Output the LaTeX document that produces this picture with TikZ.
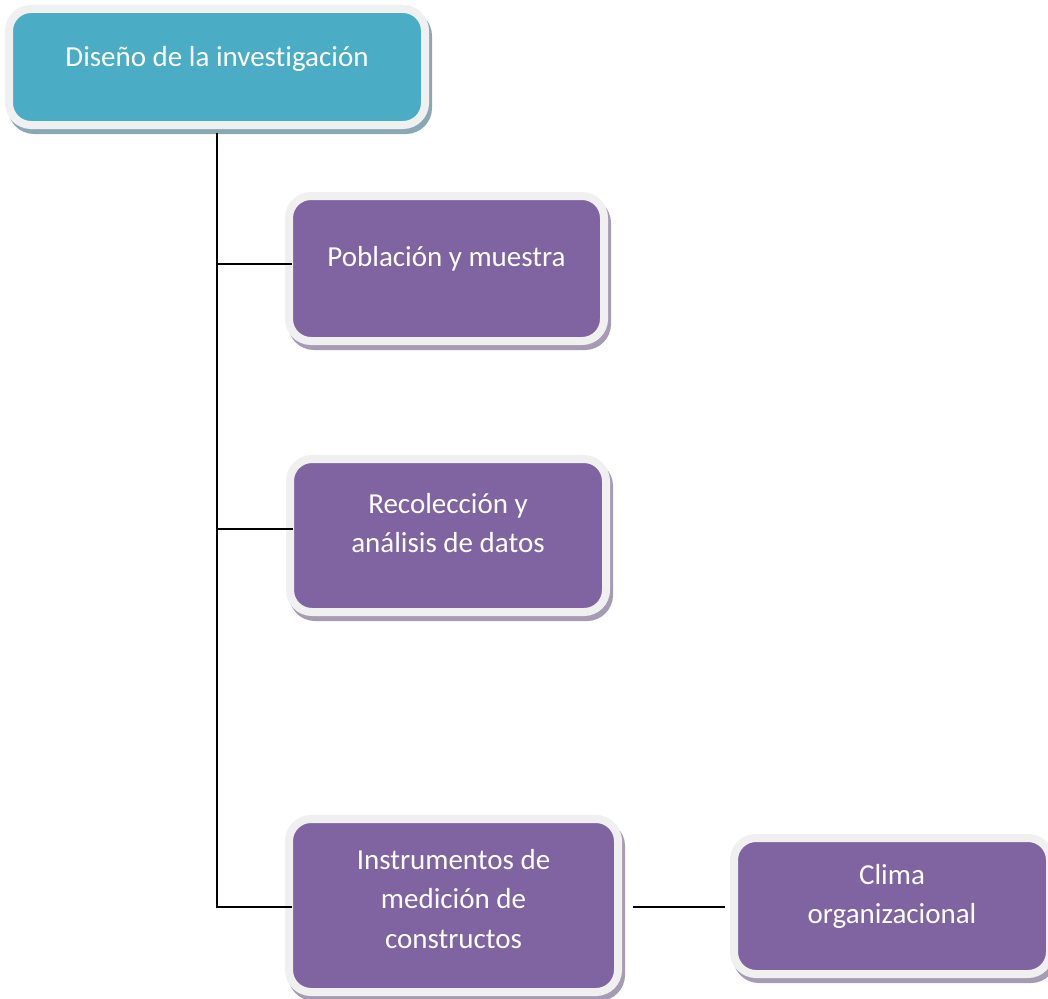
\documentclass[tikz,border=0pt]{standalone}
\usepackage{fontspec}
\setmainfont[Ligatures=NoCommon]{Carlito}
\usetikzlibrary{shadows}

\definecolor{tealfill}{RGB}{75,172,198}
\definecolor{purplefill}{RGB}{128,100,162}
\definecolor{boxrim}{RGB}{240,240,240}
\definecolor{tealshade}{RGB}{138,168,180}
\definecolor{purpleshade}{RGB}{165,155,178}

\tikzset{
    boxbase/.style={rectangle, rounded corners=22pt, draw=boxrim, line width=8pt, outer sep=0pt, inner sep=0pt},
    topbox/.style={boxbase, fill=tealfill, minimum width=416pt, minimum height=116pt,
        drop shadow={shadow xshift=3pt, shadow yshift=-5pt, fill=tealshade, draw=tealshade, opacity=1}},
    purplebox/.style={boxbase, fill=purplefill,
        drop shadow={shadow xshift=3pt, shadow yshift=-5pt, fill=purpleshade, draw=purpleshade, opacity=1}},
    boxtext/.style={text=white, align=center, inner sep=0pt, font=\fontsize{29pt}{39.5pt}\selectfont},
    conn/.style={draw=black, line width=2pt}
}

\begin{document}
\begin{tikzpicture}[x=1pt, y=-1pt]
    \useasboundingbox (0,0) rectangle (1048,998);

    % Draw nodes
    \node[topbox] (diseno) at (217,67) {};
    \node[purplebox, minimum width=315pt, minimum height=145pt] (poblacion) at (446.5,268.5) {};
    \node[purplebox, minimum width=316pt, minimum height=153pt] (recoleccion) at (448,535.5) {};
    \node[purplebox, minimum width=329pt, minimum height=173pt] (instrumentos) at (453.5,905.5) {};
    \node[purplebox, minimum width=316pt, minimum height=136pt] (clima) at (892,906) {};

    % Texts
    \node[boxtext] (disenotxt) at ([yshift=8.5pt]diseno.center) {Diseño de la investigación};
    \node[boxtext] (poblaciontxt) at ([yshift=10pt]poblacion.center) {Población y muestra};
    \node[boxtext] (recolecciontxt) at ([yshift=12.5pt]recoleccion.center) {Recolección y\\análisis de datos};
    \node[boxtext] (instrumentostxt) at ([yshift=6.5pt]instrumentos.center) {Instrumentos de\\medición de\\constructos};
    \node[boxtext] (climatxt) at ([yshift=9.5pt]clima.center) {Clima\\organizacional};

    % Draw connections
    \draw[conn] ([yshift=-8pt]diseno.south) |- ([xshift=3pt, yshift=-1.5pt]instrumentos.west);
    \draw[conn] ([yshift=4.5pt]poblacion.west -| diseno.south) -- ([xshift=3pt, yshift=4.5pt]poblacion.west);
    \draw[conn] ([yshift=6.5pt]recoleccion.west -| diseno.south) -- ([xshift=3pt, yshift=6.5pt]recoleccion.west);
    \draw[conn] ([xshift=15pt, yshift=-1.5pt]instrumentos.east) -- ([xshift=-9pt, yshift=-1pt]clima.west);
\end{tikzpicture}
\end{document}
